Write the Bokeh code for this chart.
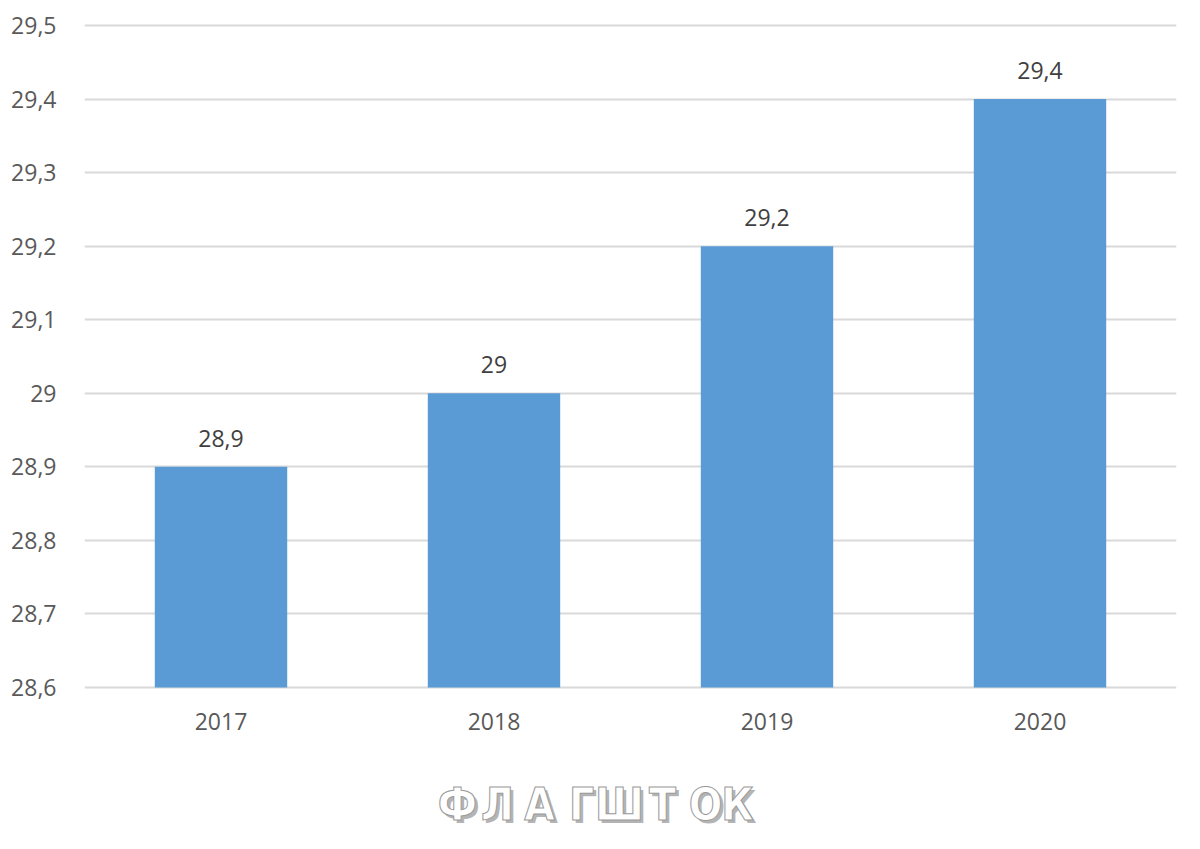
from bokeh.plotting import figure
from bokeh.layouts import column
from bokeh.models import FactorRange, Range1d, ColumnDataSource, CustomJSTickFormatter, Label, FixedTicker
from bokeh.embed import file_html
from bokeh.resources import INLINE
from bokeh.core.properties import value

years = ["2017", "2018", "2019", "2020"]
values = [28.9, 29.0, 29.2, 29.4]
labels = [f"{v:g}".replace(".", ",") for v in values]
y_ticks = [28.6, 28.7, 28.8, 28.9, 29.0, 29.1, 29.2, 29.3, 29.4, 29.5]
watermark = "ФЛАГШТОК"

FONT = "Open Sans"
WFONT = "'DejaVu Sans Condensed', 'DejaVu Sans', sans-serif"

p = figure(width=1184, height=755, output_backend="svg", toolbar_location=None,
           x_range=FactorRange(*years, range_padding=0), y_range=Range1d(28.5973, 29.5027),
           min_border_left=84, min_border_right=8, min_border_top=23, min_border_bottom=66)
p.outline_line_color = None
p.background_fill_color = "white"

src = ColumnDataSource(dict(x=years, top=values, label=labels))
p.vbar(x="x", top="top", bottom=28.6, width=0.485, source=src, fill_color="#5B9BD5", line_color=None)
p.text(x="x", y="top", text="label", source=src, text_align="center", text_baseline="bottom",
       y_offset=-20, text_font=value(FONT), text_font_size="23px", text_color="#404040")

p.yaxis.ticker = FixedTicker(ticks=y_ticks)
p.yaxis.formatter = CustomJSTickFormatter(code="return (Math.round(tick*10)/10).toString().replace('.', ',');")
for ax in (p.xaxis, p.yaxis):
    ax.axis_line_color = None
    ax.major_tick_line_color = None
    ax.minor_tick_line_color = None
    ax.major_label_text_font = FONT
    ax.major_label_text_font_size = "23px"
    ax.major_label_text_color = "#595959"
p.yaxis.major_label_standoff = 22
p.xaxis.major_label_standoff = 17

p.xgrid.grid_line_color = None
p.ygrid.grid_line_color = "#D9D9D9"
p.ygrid.grid_line_width = 2

# watermark strip below the chart; its frame lines up with the chart frame (page x 84..1176)
w = figure(width=1184, height=78, output_backend="svg", toolbar_location=None,
           x_range=Range1d(84, 1176), y_range=Range1d(0, 78),
           min_border_left=84, min_border_right=8, min_border_top=0, min_border_bottom=0)
w.axis.visible = False
w.grid.visible = False
w.outline_line_color = None

has_outline = "text_outline_color" in Label.properties()
xs = [457, 497, 539, 581, 619, 662, 705, 737]
wy = 78 - (804 - 755)
for i, ch in enumerate(watermark):
    w.add_layout(Label(x=xs[i] + 3, y=wy - 3, text=ch,
                       text_font=WFONT, text_font_style="bold", text_font_size="44px",
                       text_color="#555555", text_alpha=0.45, text_align="center", text_baseline="middle"))
    kw = dict(text_outline_color="#9a9a9a") if has_outline else {}
    w.add_layout(Label(x=xs[i], y=wy, text=ch,
                       text_font=WFONT, text_font_style="bold", text_font_size="44px",
                       text_color="white", text_align="center", text_baseline="middle", **kw))

open("out.html", "w").write(file_html(column(p, w, spacing=0), INLINE))
